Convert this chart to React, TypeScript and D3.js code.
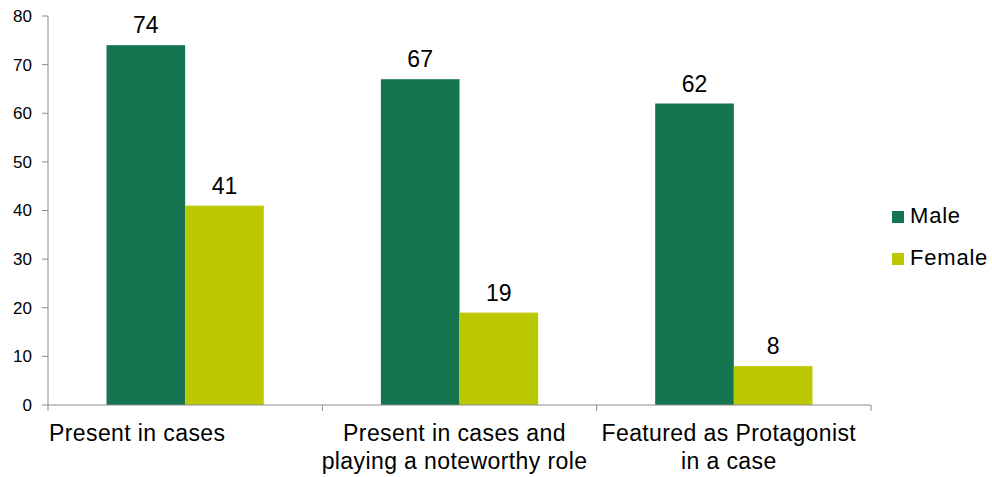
import React from 'react';
import * as d3 from 'd3';

// chart data
const categories = [
  ['Present in cases'],
  ['Present in cases and', 'playing a noteworthy role'],
  ['Featured as Protagonist', 'in a case'],
];
const seriesNames = ['Male', 'Female'];
const maleValues = [74, 67, 62];
const femaleValues = [41, 19, 8];
const yTicks = [0, 10, 20, 30, 40, 50, 60, 70, 80];

const colors = { Male: '#167551', Female: '#bdc900' };
const axisColor = '#8c8c8c';
const font = '"Liberation Sans", Arial, sans-serif';

const App = () => {
  const width = 992;
  const height = 477;
  const margin = { top: 16, left: 48, right: 121, bottom: 72 };

  const keys = categories.map((c, i) => String(i));
  const x0 = d3.scaleBand<string>()
    .domain(keys)
    .range([margin.left, width - margin.right]);
  const x1 = d3.scaleBand<string>()
    .domain(seriesNames)
    .range([0, x0.bandwidth()])
    .paddingOuter(0.744);
  const y = d3.scaleLinear()
    .domain([0, 80])
    .range([height - margin.bottom, margin.top]);

  const rows = keys.map((k, i) => ({
    key: k,
    values: [
      { name: 'Male', value: maleValues[i] },
      { name: 'Female', value: femaleValues[i] },
    ],
  }));

  const baseY = y(0);
  const boundaries = [...keys.map(k => x0(k)!), x0.range()[1]];

  return (
    <svg width={width} height={height}
      style={{ position: 'absolute', left: 0, top: 0, background: '#fff' }}
      fontFamily={font}>
      {/* bars */}
      {rows.map(r => (
        <g key={r.key} transform={`translate(${x0(r.key)},0)`}>
          {r.values.map(v => (
            <g key={v.name}>
              <rect
                x={x1(v.name)}
                y={y(v.value)}
                width={x1.bandwidth()}
                height={baseY - y(v.value)}
                fill={colors[v.name as 'Male' | 'Female']}
              />
              <text
                x={x1(v.name)! + x1.bandwidth() / 2}
                y={y(v.value) - 12}
                textAnchor="middle"
                fontSize={23}
                fill="#000">
                {v.value}
              </text>
            </g>
          ))}
        </g>
      ))}

      {/* y axis */}
      <line x1={margin.left} x2={margin.left} y1={y(80)} y2={baseY} stroke={axisColor} />
      {yTicks.map(t => (
        <g key={t}>
          <line x1={margin.left - 6} x2={margin.left} y1={y(t)} y2={y(t)} stroke={axisColor} />
          <text x={margin.left - 16} y={y(t)} dy="0.35em" textAnchor="end" fontSize={17} fill="#000">
            {t}
          </text>
        </g>
      ))}

      {/* x axis */}
      <line x1={margin.left} x2={x0.range()[1]} y1={baseY} y2={baseY} stroke={axisColor} />
      {boundaries.map((b, i) => (
        <line key={i} x1={b} x2={b} y1={baseY} y2={baseY + 6} stroke={axisColor} />
      ))}
      {categories.map((lines, i) => {
        const cx = i === 0 ? x0(keys[i])! + 1 : x0(keys[i])! + x0.bandwidth() / 2 - 5;
        return (
          <text key={i} textAnchor={i === 0 ? 'start' : 'middle'} fontSize={23}
            letterSpacing={0.4} fill="#000">
            {lines.map((l, j) => (
              <tspan key={j} x={cx} y={baseY + 36 + j * 28}>{l}</tspan>
            ))}
          </text>
        );
      })}

      {/* legend */}
      {seriesNames.map((s, i) => (
        <g key={s} transform={`translate(892, ${211 + i * 42})`}>
          <rect width={12} height={12} fill={colors[s as 'Male' | 'Female']} />
          <text x={18} y={12} fontSize={22} letterSpacing={0.8} fill="#000">{s}</text>
        </g>
      ))}
    </svg>
  );
};

export default App;
